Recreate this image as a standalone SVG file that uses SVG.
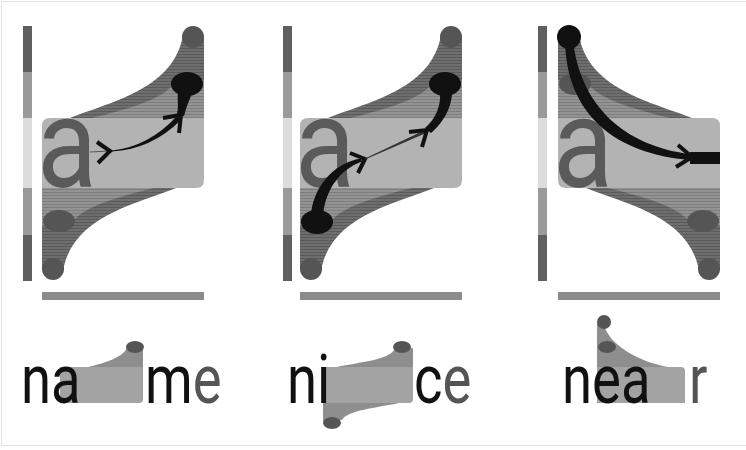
<svg xmlns="http://www.w3.org/2000/svg" width="746" height="450" viewBox="0 0 746 450">
<defs>
<pattern id="sd" patternUnits="userSpaceOnUse" width="8" height="3"><rect width="8" height="3" fill="#6e6e6e"/><rect width="8" height="1" fill="#5a5a5a"/></pattern>
<pattern id="sl" patternUnits="userSpaceOnUse" width="8" height="3"><rect width="8" height="3" fill="#939393"/><rect width="8" height="1" fill="#7e7e7e"/></pattern>
<style>
.vd{fill:#5f5f5f}.vm{fill:#9a9a9a}.vl{fill:#dcdcdc}
.hb{fill:#8c8c8c}
.box{fill:#b3b3b3}
.dot{fill:#555}
.blk{fill:#111}
.chev{fill:none;stroke:#111;stroke-width:4;stroke-linejoin:miter}
.big{font-family:Roboto,"Liberation Sans",sans-serif;font-size:127px;fill:#5a5a5a}
.wd{font-family:Roboto,"Liberation Sans",sans-serif;font-size:68px;fill:#111}
.sbox{fill:#a3a3a3}.sfl{fill:#8e8e8e}
</style>
<g id="bar">
<rect class="vd" x="0" y="26" width="9" height="46"/>
<rect class="vm" x="0" y="72" width="9" height="46"/>
<rect class="vl" x="0" y="118" width="9" height="70"/>
<rect class="vm" x="0" y="188" width="9" height="47"/>
<rect class="vd" x="0" y="235" width="9" height="46"/>
</g>
<g id="shape">
<path fill="url(#sd)" d="M70,118 C110,102 170,90 182,40 L182,37 L204,37 L204,118 Z"/>
<path fill="url(#sl)" d="M92,118 C125,110 160,100 172,86 L204,80 L204,118 Z"/>
<path fill="url(#sd)" d="M176,188 C136,204 76,216 64,266 L64,269 L42,269 L42,188 Z"/>
<path fill="url(#sl)" d="M154,188 C121,196 86,206 74,220 L42,226 L42,188 Z"/>
<path class="box" d="M50,118 H204 V180 Q204,188 196,188 H42 V126 Q42,118 50,118 Z"/>
<circle class="dot" cx="193" cy="37" r="11"/>
<circle class="dot" cx="53" cy="269" r="11"/>
<ellipse class="dot" cx="59" cy="221" rx="16" ry="11"/>
<ellipse class="dot" cx="187" cy="84" rx="16" ry="11"/>
<rect class="hb" x="42" y="292" width="162" height="8"/>
</g>
</defs>
<rect x="1.5" y="1.5" width="746" height="444" fill="#fff" stroke="#e3e3e3"/>

<g id="panel1">
<use href="#bar" x="23"/>
<use href="#shape"/>
<ellipse class="blk" cx="187" cy="84" rx="16" ry="12"/>
<text class="big" transform="translate(37,187) scale(0.87,1)">a</text>
</g>

<g id="panel2">
<use href="#bar" x="283"/>
<use href="#shape" transform="translate(258,0)"/>
<text class="big" transform="translate(295,187) scale(0.87,1)">a</text>
<ellipse class="blk" cx="445" cy="84" rx="16" ry="12"/>
<ellipse class="blk" cx="317" cy="222" rx="16" ry="12"/>
</g>

<g id="panel3">
<use href="#bar" x="538"/>
<use href="#shape" transform="translate(762,0) scale(-1,1)"/>
<text class="big" transform="translate(553,187) scale(0.87,1)">a</text>
<circle class="blk" cx="569" cy="37" r="12"/>
</g>

<g id="connectors">
<line x1="90" y1="152" x2="110" y2="151" stroke="#555" stroke-width="1"/>
<polyline class="chev" points="97,142 110,151 98,163"/>
<path class="blk" d="M112,150.5 Q149,146.5 177,116 L181,120 Q151,149.5 112,151.5 Z"/>
<polyline class="chev" points="163,118 181,115 179,133"/>
<path class="blk" d="M177,114 C179,106 177,100 178,92 L193,92 C189,100 186,108 184,116 Z"/>

<path class="blk" d="M311,216 C312,190 332,163 361,158.5 L362,161.5 C338,170 325,192 323,216 Z"/>
<polyline class="chev" points="350,153 365,159 358,173"/>
<path fill="#333" d="M365,158.5 L424,130.5 L425,133.5 L365,159.5 Z"/>
<polyline class="chev" points="409,132 427,130 422,147"/>
<path class="blk" d="M425,128 C436,118 441,106 440,92 L452,92 C452,108 442,124 431,133 Z"/>

<path class="blk" d="M573,40 C580,105 624,146 690,154 L690,160 C616,154 566,115 565,40 Z"/>
<polyline class="chev" points="678,145 692,157 676,167"/>
<rect class="blk" x="690" y="152" width="30" height="12"/>
</g>

<g id="word1">
<path class="sbox" d="M60,367 H143 V399 Q143,403 139,403 H60 Z"/>
<path class="sfl" d="M88,367 C105,363 122,358 127,348 L143,348 L143,367 Z"/>
<ellipse class="dot" cx="135" cy="347" rx="9" ry="6"/>
<text class="wd" transform="translate(21,403) scale(0.8,1)">na</text>
<text class="wd" transform="translate(145,403) scale(0.8,1)">m<tspan fill="#555">e</tspan></text>
</g>

<g id="word2">
<path class="sbox" d="M323,367 H413 V399 Q413,403 409,403 H323 Z"/>
<path class="sfl" d="M337,367 C360,362 388,360 394,350 L413,348 L413,367 Z"/>
<path class="sfl" d="M399,403 C376,408 348,410 342,420 L323,422 L323,403 Z"/>
<ellipse class="dot" cx="402" cy="347" rx="9" ry="6"/>
<ellipse class="dot" cx="332" cy="423" rx="9" ry="6"/>
<text class="wd" transform="translate(287,403) scale(0.8,1)">ni</text>
<text class="wd" transform="translate(414,403) scale(0.8,1)">c<tspan fill="#555">e</tspan></text>
</g>

<g id="word3">
<path class="sbox" d="M597,367 H681 Q685,367 685,371 V403 H597 Z"/>
<path class="sfl" d="M597,367 V324 L604,324 C608,345 640,362 668,367 Z"/>
<circle class="dot" cx="604" cy="322" r="7"/>
<ellipse class="dot" cx="607" cy="347" rx="9" ry="6"/>
<text class="wd" transform="translate(562,403) scale(0.8,1)">nea</text>
<text class="wd" fill="#555" transform="translate(689,403) scale(0.8,1)" style="fill:#555">r</text>
</g>
</svg>
